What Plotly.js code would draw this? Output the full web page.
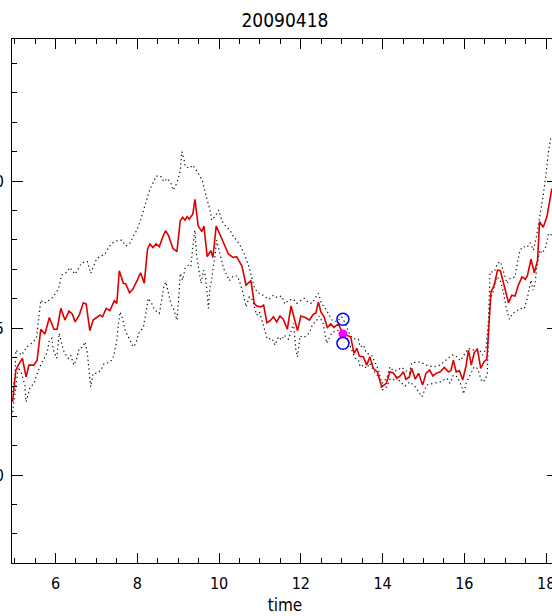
<!DOCTYPE html>
<html>
<head>
<meta charset="utf-8">
<script src="https://cdn.plot.ly/plotly-3.0.1.min.js"></script>
<style>
html,body{margin:0;padding:0;background:#fff;overflow:hidden;}
#chart{width:560px;height:616px;}
</style>
</head>
<body>
<div id="chart"></div>
<script>
// ---- data (time in hours UT) ----
const chartTitle = '20090418';
const xTitle = 'time';
const yTickVals = [0, 5, 10];
const yTickText = ['0', '5', '10'];

const meanTime = [4.95,5.03,5.09,5.19,5.28,5.35,5.47,5.55,5.64,5.74,
5.85,5.96,6.04,6.13,6.23,6.33,6.41,6.48,6.58,6.68,
6.75,6.84,6.92,7.02,7.09,7.15,7.24,7.33,7.44,7.50,
7.56,7.66,7.72,7.81,7.89,8.00,8.08,8.17,8.25,8.31,
8.38,8.46,8.54,8.62,8.69,8.76,8.87,8.97,9.05,9.11,
9.17,9.22,9.27,9.36,9.41,9.49,9.58,9.63,9.71,9.80,
9.85,9.93,10.01,10.11,10.23,10.34,10.43,10.56,10.59,10.66,
10.78,10.86,10.92,11.02,11.09,11.17,11.25,11.33,11.41,11.49,
11.57,11.67,11.76,11.83,11.92,12.00,12.11,12.21,12.29,12.37,
12.43,12.49,12.57,12.65,12.73,12.81,12.92,13.03,13.14,13.22,
13.30,13.37,13.43,13.53,13.61,13.69,13.77,13.87,13.98,14.09,
14.18,14.26,14.35,14.43,14.51,14.57,14.65,14.71,14.80,14.88,
14.98,15.06,15.15,15.23,15.31,15.41,15.51,15.61,15.67,15.73,
15.80,15.88,15.96,16.04,16.10,16.17,16.24,16.32,16.40,16.48,
16.55,16.59,16.65,16.73,16.81,16.88,16.96,17.02,17.08,17.16,
17.24,17.32,17.41,17.49,17.54,17.63,17.71,17.79,17.84,17.93,
18.02,18.14];
const meanVal = [2.49,3.57,3.74,3.97,3.34,3.74,3.74,3.91,4.96,4.80,
5.36,4.96,4.96,5.67,5.27,5.58,5.48,5.21,5.44,5.86,
5.82,4.91,5.27,5.36,5.44,5.38,5.67,5.59,5.93,5.84,
6.95,6.52,6.50,6.20,6.32,6.63,6.88,6.52,7.68,7.86,
7.74,7.86,7.77,8.09,8.31,8.16,7.71,7.60,8.65,8.77,
8.67,8.79,8.70,8.88,9.38,8.47,8.28,8.47,7.43,7.63,
7.40,8.47,8.22,7.86,7.52,7.40,7.43,7.11,6.91,6.46,
6.61,5.84,5.75,5.72,5.78,5.18,5.25,5.38,5.21,5.41,
5.30,4.96,5.75,5.41,4.91,5.41,5.36,5.27,5.44,5.52,
5.89,5.55,5.38,5.02,5.14,5.02,5.14,4.80,4.73,4.70,
4.14,4.31,4.05,4.02,3.74,4.02,3.63,3.51,3.00,3.12,
3.51,3.48,3.29,3.37,3.51,3.26,3.33,3.63,3.26,3.46,
3.06,3.46,3.57,3.37,3.46,3.51,3.66,3.51,3.55,3.91,
3.51,3.55,3.23,3.71,4.25,3.74,4.16,4.28,3.63,3.85,
3.94,5.04,6.23,6.46,6.97,6.95,6.52,6.12,5.86,6.12,
6.09,6.46,6.74,6.66,6.77,7.34,6.88,7.31,8.62,8.43,
8.79,9.75];

const upperTime = [4.95,5.01,5.03,5.17,5.30,5.46,5.54,5.64,5.72,5.91,
6.07,6.15,6.29,6.35,6.48,6.64,6.78,6.86,7.01,7.21,
7.29,7.37,7.50,7.62,7.72,7.82,7.90,7.99,8.07,8.15,
8.23,8.30,8.38,8.46,8.57,8.65,8.74,8.82,8.88,8.97,
9.05,9.09,9.14,9.17,9.27,9.36,9.44,9.52,9.60,9.66,
9.71,9.78,9.82,9.92,9.99,10.04,10.10,10.19,10.27,10.35,
10.43,10.53,10.61,10.72,10.80,10.86,10.94,11.04,11.12,11.23,
11.33,11.42,11.53,11.61,11.70,11.82,11.90,11.98,12.08,12.19,
12.27,12.37,12.43,12.51,12.59,12.67,12.76,12.88,13.00,13.08,
13.21,13.33,13.41,13.45,13.53,13.61,13.73,13.82,13.90,13.98,
14.10,14.18,14.26,14.35,14.47,14.55,14.66,14.71,14.90,15.08,
15.24,15.41,15.57,15.69,15.77,15.90,16.02,16.10,16.21,16.29,
16.37,16.45,16.53,16.59,16.63,16.73,16.81,16.88,16.96,17.04,
17.12,17.24,17.28,17.36,17.44,17.53,17.61,17.69,17.77,17.85,
17.93,18.00,18.05,18.11];
const upperVal = [2.82,3.40,4.25,4.08,4.36,4.53,4.70,5.95,5.84,6.01,
6.32,6.80,6.91,7.06,6.83,7.22,7.26,6.86,7.37,7.52,
7.71,7.88,7.97,7.99,7.79,7.88,8.11,8.33,8.62,9.01,
9.35,9.69,9.92,10.17,10.17,9.98,10.09,9.94,9.69,9.94,
10.32,11.00,10.77,10.51,10.43,10.54,10.37,10.20,9.98,9.58,
9.35,9.01,8.67,8.84,9.01,8.77,8.56,8.43,8.33,8.11,
7.99,7.77,7.54,7.14,6.74,6.40,6.20,6.16,6.06,5.98,
6.12,6.04,6.09,5.82,5.95,5.98,5.84,5.93,6.01,5.86,
5.84,6.06,6.18,5.82,5.70,5.50,5.27,5.21,5.38,5.18,
4.73,4.62,4.62,4.36,4.42,4.14,4.08,3.82,3.57,3.12,
3.29,3.68,3.55,3.55,3.66,3.57,3.47,3.82,3.85,3.74,
3.68,3.74,3.94,4.08,4.08,3.89,4.14,4.31,4.25,4.31,
4.25,4.08,4.31,5.27,6.91,6.91,7.20,7.26,6.91,6.52,
6.69,6.74,7.09,7.65,7.77,7.74,7.90,7.65,8.16,8.79,
9.52,10.26,10.94,11.45];

const lowerTime = [4.95,5.01,5.09,5.16,5.25,5.28,5.38,5.47,5.58,5.70,
5.80,5.85,5.91,5.95,6.03,6.09,6.13,6.19,6.26,6.31,
6.37,6.45,6.52,6.58,6.67,6.72,6.78,6.83,6.86,6.92,
7.02,7.11,7.19,7.29,7.38,7.43,7.50,7.54,7.58,7.64,
7.70,7.78,7.90,7.97,8.03,8.07,8.15,8.21,8.27,8.35,
8.43,8.54,8.60,8.65,8.70,8.76,8.82,8.90,8.97,9.01,
9.05,9.11,9.17,9.25,9.31,9.36,9.41,9.45,9.52,9.56,
9.62,9.66,9.71,9.74,9.78,9.82,9.86,9.90,9.94,9.98,
10.04,10.11,10.19,10.25,10.35,10.45,10.51,10.59,10.66,10.74,
10.82,10.92,10.99,11.13,11.18,11.29,11.37,11.45,11.53,11.59,
11.70,11.82,11.88,11.92,11.98,12.06,12.14,12.22,12.29,12.37,
12.45,12.55,12.63,12.67,12.76,12.88,13.00,13.12,13.25,13.33,
13.41,13.45,13.53,13.61,13.69,13.82,13.92,13.98,14.10,14.18,
14.26,14.35,14.43,14.55,14.67,14.80,14.96,15.08,15.24,15.41,
15.57,15.65,15.73,15.83,15.94,15.98,16.04,16.12,16.18,16.24,
16.32,16.43,16.51,16.56,16.59,16.63,16.70,16.79,16.88,16.96,
17.02,17.10,17.18,17.30,17.38,17.46,17.53,17.63,17.68,17.73,
17.77,17.84,17.90,17.98,18.06,18.14];
const lowerVal = [2.14,2.79,3.67,3.50,3.06,2.49,2.99,3.10,3.57,3.91,
4.19,4.59,4.65,4.25,3.97,4.82,4.59,4.25,4.08,3.97,
4.08,3.74,3.97,4.31,4.36,4.53,4.14,3.40,3.00,3.46,
3.46,3.57,3.80,3.82,3.91,4.08,4.59,5.16,5.55,5.33,
4.93,4.70,4.36,4.48,4.82,4.87,5.04,5.50,6.01,5.84,
5.61,5.50,5.95,6.40,6.57,6.18,5.84,5.61,5.27,5.95,
6.86,6.63,7.03,7.14,7.09,7.77,8.33,7.48,6.86,6.52,
6.97,6.80,6.18,5.67,6.40,6.63,7.09,7.43,7.99,7.77,
7.43,7.03,6.80,6.61,6.77,6.77,6.54,6.18,5.72,6.06,
5.95,5.44,5.55,4.82,4.62,4.65,4.42,4.70,4.59,4.76,
4.62,5.16,4.25,4.02,4.73,4.68,4.73,4.87,5.14,5.21,
5.41,5.14,4.48,4.59,4.84,4.93,4.87,4.68,4.25,3.97,
3.91,3.68,3.74,3.63,3.80,3.46,3.34,2.89,3.00,3.26,
3.23,3.34,3.17,3.03,3.17,3.00,2.66,3.06,3.12,3.17,
3.29,3.12,3.40,3.34,3.00,2.76,3.12,3.34,3.46,3.68,
3.63,3.17,3.23,3.46,4.70,5.95,6.23,6.74,6.63,6.18,
5.72,5.30,5.50,5.59,5.67,5.64,5.95,6.63,6.29,6.52,
7.09,7.65,7.54,7.71,8.22,8.16];

const pointTime = [13.03];
const pointVal = [4.80];
const ringTime = [13.03, 13.03];
const ringVal = [5.30, 4.48];

// ---- drawing ----
const FONT = '"Liberation Sans Narrow", "DejaVu Sans Condensed", "Liberation Sans", sans-serif';
const dotted = {color: '#111', width: 1.2, dash: '1.3px,3px'};

const traces = [
  {x: upperTime, y: upperVal, mode: 'lines', line: dotted, hoverinfo: 'skip'},
  {x: lowerTime, y: lowerVal, mode: 'lines', line: dotted, hoverinfo: 'skip'},
  {x: meanTime, y: meanVal, mode: 'lines', line: {color: '#dd0000', width: 1.6}},
  {x: pointTime, y: pointVal, mode: 'markers', marker: {color: '#ff00ff', size: 9, line: {width: 0}}},
  {x: ringTime, y: ringVal, mode: 'markers', marker: {symbol: 'circle-open', color: '#0000ff', size: 12, line: {width: 1.5, color: '#0000ff'}}}
];

const axisCommon = {
  showline: true, linecolor: '#000', linewidth: 1,
  mirror: 'ticks', ticks: 'inside', tickcolor: '#000', tickwidth: 1,
  showgrid: false, zeroline: false, automargin: false,
  tickfont: {family: FONT, size: 16, color: '#000'}
};

const layout = {
  width: 560, height: 616,
  margin: {l: 12, r: 2, t: 39, b: 53, pad: 0},
  paper_bgcolor: '#fff', plot_bgcolor: '#fff',
  showlegend: false,
  title: {text: chartTitle, font: {family: FONT, size: 19, color: '#000'},
          x: 0.5, xref: 'paper', xanchor: 'center', y: 1 - 20/616, yref: 'container', yanchor: 'middle'},
  xaxis: Object.assign({}, axisCommon, {
    range: [4.936, 18.29], tickmode: 'linear', tick0: 0, dtick: 2, ticklen: 10,
    ticklabelstandoff: 6,
    minor: {tick0: 0, dtick: 0.5, ticks: 'inside', ticklen: 5, tickcolor: '#000', tickwidth: 1, showgrid: false},
    title: {text: xTitle, font: {family: FONT, size: 17, color: '#000'}, standoff: 6}
  }),
  yaxis: Object.assign({}, axisCommon, {
    range: [-2.99, 14.83], tickmode: 'array', tickvals: yTickVals, ticktext: yTickText, ticklen: 11,
    ticklabelstandoff: 4,
    minor: {tick0: 0, dtick: 1, ticks: 'inside', ticklen: 5, tickcolor: '#000', tickwidth: 1, showgrid: false}
  })
};

Plotly.newPlot('chart', traces, layout, {staticPlot: true, displayModeBar: false});
</script>
</body>
</html>
